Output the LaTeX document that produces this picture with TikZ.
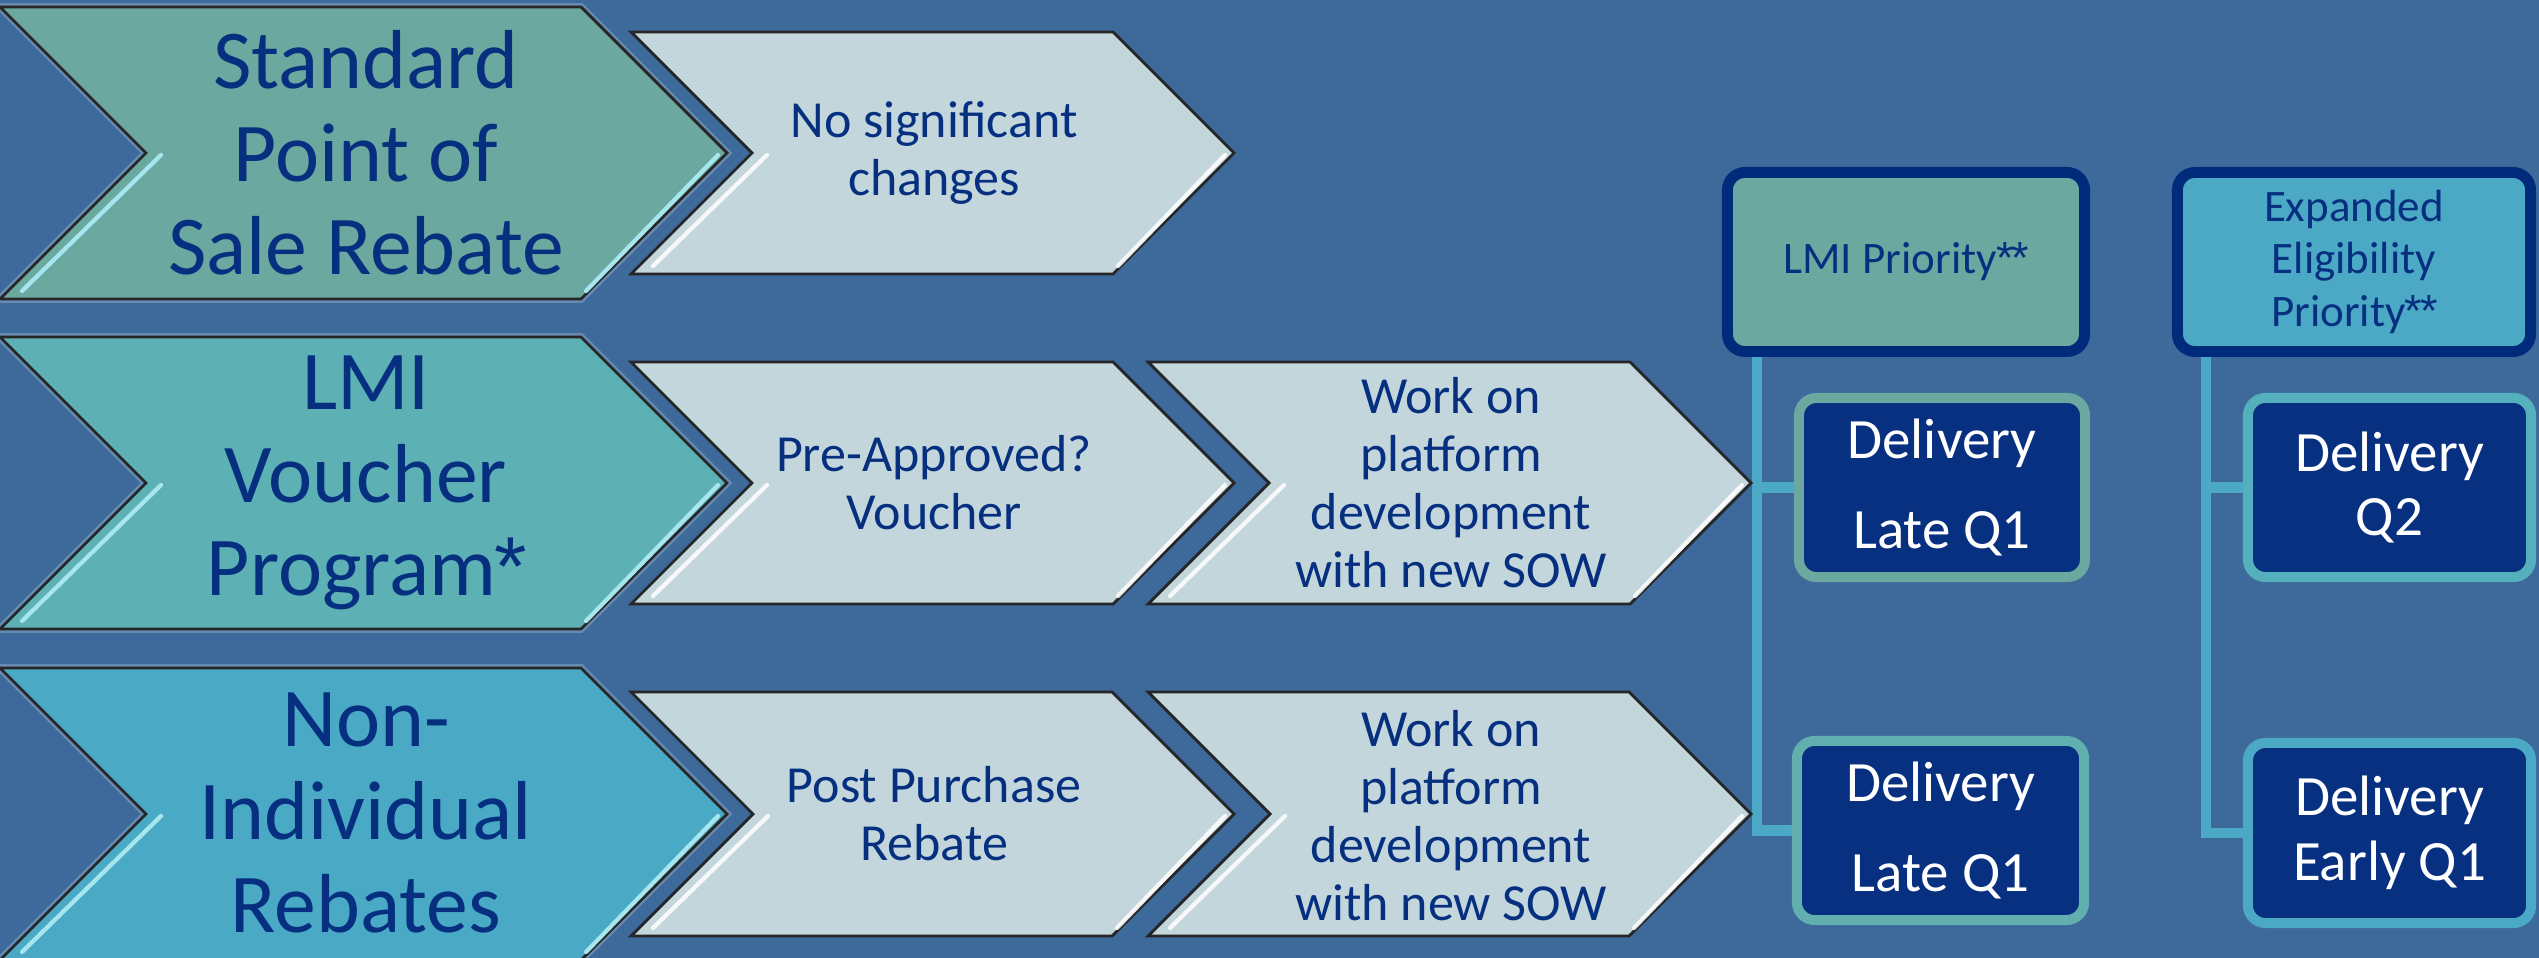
\documentclass[tikz,border=0pt]{standalone}
\usepackage{fontspec}
\setmainfont{Carlito}
\newfontfamily\astfont{Liberation Sans}
\usetikzlibrary{calc,backgrounds}
\definecolor{bg}{HTML}{3D6A9B}
\definecolor{txt}{HTML}{06307F}
\definecolor{chA}{HTML}{6BA8A0}
\definecolor{chB}{HTML}{5DB1B5}
\definecolor{chC}{HTML}{4AA9C5}
\definecolor{light}{HTML}{C3D6DC}
\definecolor{navy}{HTML}{073080}
\definecolor{pborder}{HTML}{002B7A}
\definecolor{connc}{HTML}{4BA9C6}
\definecolor{dbA}{HTML}{6BA8A0}
\definecolor{dbB}{HTML}{62AFAF}
\definecolor{dbC}{HTML}{55B0BD}
\definecolor{dbD}{HTML}{4BA9C6}
\definecolor{bevA}{HTML}{A6E6EE}
\newcommand\bast{{\astfont\kern-0.02em *\kern-0.02em}}
% #1 x0, #2 top, #3 width to tip, #4 half height, #5 style
\newcommand\chev[5]{%
  \path[#5] (#1,#2) -- ({#1+#3-#4},#2) -- ({#1+#3},{#2+#4}) -- ({#1+#3-#4},{#2+2*#4}) -- (#1,{#2+2*#4}) -- ({#1+#4},{#2+#4}) -- cycle;}
% bevel highlights: #1 x0, #2 top, #3 width, #4 half height, #5 style
\newcommand\bevel[5]{%
  \draw[#5] ({#1+#4+15},{#2+#4+2}) -- ({#1+22},{#2+2*#4-8});
  \draw[#5] ({#1+#3-9},{#2+#4+2}) -- ({#1+#3-#4+5},{#2+2*#4-8});}
\tikzset{
  glowline/.style={draw=white, draw opacity=0.22, line width=2.2pt, line join=miter},
  chevline/.style={draw=black!85, line width=0.8pt, line join=miter},
  bevbig/.style={draw=bevA, line width=1.2pt, line cap=round},
  bevlight/.style={draw=white, draw opacity=0.85, line width=1.2pt, line cap=round},
  bigtxt/.style={text=txt, align=center, inner sep=0pt, font=\fontsize{23.8}{26.5}\selectfont},
  smalltxt/.style={text=txt, align=center, inner sep=0pt, font=\fontsize{14.8}{16.5}\selectfont},
  prio/.style={draw=pborder, line width=3.1pt, rounded corners=5pt, text=txt, align=center,
    inner sep=0pt, minimum height=1.79cm, font=\fontsize{12.8}{14.8}\selectfont},
  deliv/.style={fill=navy, line width=2.85pt, rounded corners=5pt, text=white, align=center,
    inner sep=0pt, minimum height=1.79cm},
  conn/.style={draw=connc, line width=2.85pt}
}
\begin{document}
\begin{tikzpicture}[x=0.01cm,y=-0.01cm]
\useasboundingbox (0,0) rectangle (2539,958);
\begin{pgfonlayer}{background}
\fill[bg] (0,0) rectangle (2539,958);
\end{pgfonlayer}
% row 1
\chev{0}{7}{727}{146}{glowline}
\chev{0}{7}{727}{146}{fill=chA, chevline}
\bevel{0}{7}{727}{146}{bevbig}
\chev{631}{32}{603}{121}{fill=light, chevline}
\bevel{631}{32}{603}{121}{bevlight}
% row 2
\chev{0}{337}{727}{146}{glowline}
\chev{0}{337}{727}{146}{fill=chB, chevline}
\bevel{0}{337}{727}{146}{bevbig}
\chev{631}{362}{603}{121}{fill=light, chevline}
\bevel{631}{362}{603}{121}{bevlight}
\chev{1148}{362}{603}{121}{fill=light, chevline}
\bevel{1148}{362}{603}{121}{bevlight}
% row 3
\chev{0}{668}{727}{146}{glowline}
\chev{0}{668}{727}{146}{fill=chC, chevline}
\bevel{0}{668}{727}{146}{bevbig}
\chev{631}{692}{603}{122}{fill=light, chevline}
\bevel{631}{692}{603}{122}{bevlight}
\chev{1148}{692}{603}{122}{fill=light, chevline}
\bevel{1148}{692}{603}{122}{bevlight}
% texts
\node[bigtxt] (std) at (366,153) {Standard\\Point of\\Sale Rebate};
\node[smalltxt] (nosig) at (934,153) {No significant\\changes};
\node[bigtxt] (lmiv) at (366,483) {LMI\\Voucher\\Program\bast};
\node[smalltxt] (preap) at (934,483) {Pre-Approved?\\Voucher};
\node[smalltxt] (work1) at (1451,483) {Work on\\platform\\development\\with new SOW};
\node[bigtxt] (nonind) at (366,813) {Non-\\Individual\\Rebates};
\node[smalltxt] (post) at (934,814) {Post Purchase\\Rebate};
\node[smalltxt] (work2) at (1451,816) {Work on\\platform\\development\\with new SOW};
% priority boxes
\node[prio, fill=chA, minimum width=3.57cm] (lmi) at (1906,262) {LMI Priority\bast\bast};
\node[prio, fill=connc, minimum width=3.53cm] (exp) at (2354,262) {Expanded\\Eligibility\\Priority\bast\bast};
% delivery boxes
\node[deliv, draw=dbA, minimum width=2.86cm, font=\fontsize{16.2}{25.6}\selectfont] (d1) at (1942,487.5) {Delivery\\Late Q1};
\node[deliv, draw=dbB, minimum width=2.87cm, font=\fontsize{16.2}{25.6}\selectfont] (d2) at (1940.5,830.5) {Delivery\\Late Q1};
\node[deliv, draw=dbC, minimum width=2.83cm, font=\fontsize{16.2}{18.2}\selectfont] (d3) at (2389.5,487.5) {Delivery\\Q2};
\node[deliv, draw=dbD, minimum width=2.83cm, minimum height=1.80cm, font=\fontsize{16.2}{18.5}\selectfont] (d4) at (2389.5,833) {Delivery\\Early Q1};
% connectors
\begin{pgfonlayer}{background}
\draw[conn] ($(lmi.south west)+(35.5,0)$) |- (d1.west);
\draw[conn] ($(lmi.south west)+(35.5,0)$) |- (d2.west);
\draw[conn] ($(exp.south west)+(34.5,0)$) |- (d3.west);
\draw[conn] ($(exp.south west)+(34.5,0)$) |- (d4.west);
\end{pgfonlayer}
\end{tikzpicture}
\end{document}
